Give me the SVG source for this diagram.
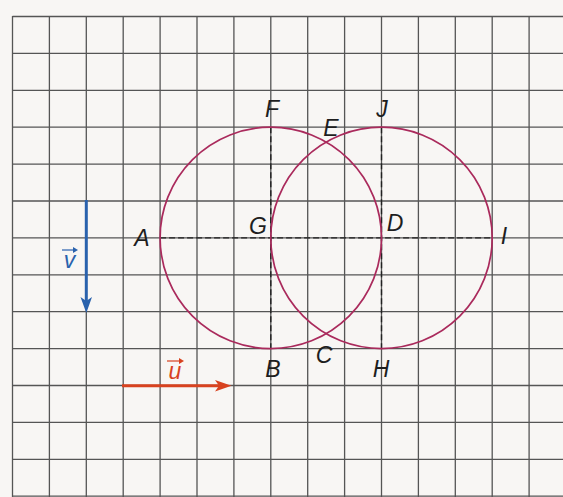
<svg xmlns="http://www.w3.org/2000/svg" width="563" height="497" viewBox="0 0 563 497">
<defs>
<style>
.grid{stroke:#555;stroke-width:1.3;fill:none}
.circ{stroke:#aa2a5c;stroke-width:1.7;fill:none}
.dash{stroke:#222;stroke-width:1.4;stroke-dasharray:6 3;fill:none}
.lbl{font-family:"Liberation Sans",Arial,sans-serif;font-style:italic;font-size:23px;fill:#1e1e1e;text-anchor:middle}
.vlbl{font-family:"Liberation Sans",Arial,sans-serif;font-style:italic;font-size:23px;text-anchor:middle}
</style>
</defs>
<rect width="563" height="497" fill="#f8f6f4"/>
<g id="grid" class="grid">
<path d="M12.5,16V497M49.4,16V497M86.3,16V497M123.2,16V497M160.1,16V497M197,16V497M233.9,16V497M270.8,16V497M307.7,16V497M344.6,16V497M381.5,16V497M418.4,16V497M455.3,16V497M492.2,16V497M529.1,16V497"/>
<path d="M12.5,16.5H563M12.5,53.4H563M12.5,90.3H563M12.5,127.2H563M12.5,164.1H563M12.5,201H563M12.5,237.9H563M12.5,274.8H563M12.5,311.7H563M12.5,348.6H563M12.5,385.5H563M12.5,422.4H563M12.5,459.3H563M12.5,496.2H563"/>
</g>
<g id="connectors">
<path class="dash" d="M160.1,237.9H492.2"/>
<path class="dash" d="M270.8,127.2V348.6"/>
<path class="dash" d="M381.5,127.2V348.6"/>
</g>
<g id="circle1"><circle class="circ" cx="270.8" cy="237.9" r="110.7"/></g>
<g id="circle2"><circle class="circ" cx="381.5" cy="237.9" r="110.7"/></g>
<g id="vector-v">
<line x1="86.3" y1="200" x2="86.3" y2="302" stroke="#2a62ad" stroke-width="3"/>
<polygon points="80.5,297 86.3,301 92,297 86.3,313" fill="#2a62ad"/>
<text class="vlbl" x="69.5" y="268" fill="#2a62ad">v</text>
<line x1="62" y1="250" x2="76" y2="250" stroke="#2a62ad" stroke-width="1.2"/>
<polygon points="73,247 78,250 73,253" fill="#2a62ad"/>
</g>
<g id="vector-u">
<line x1="122" y1="385.8" x2="220" y2="385.8" stroke="#d8421f" stroke-width="3"/>
<polygon points="215,380 219,385.8 215,391.5 231.5,385.8" fill="#d8421f"/>
<text class="vlbl" x="175" y="379" fill="#d8421f">u</text>
<line x1="167" y1="361" x2="182" y2="361" stroke="#d8421f" stroke-width="1.2"/>
<polygon points="179,358 184,361 179,364" fill="#d8421f"/>
</g>
<g id="labels">
<g id="pt-F"><text class="lbl" x="272" y="117">F</text></g>
<g id="pt-J"><text class="lbl" x="382" y="117">J</text></g>
<g id="pt-E"><text class="lbl" x="331" y="136">E</text></g>
<g id="pt-G"><text class="lbl" x="258" y="234">G</text></g>
<g id="pt-D"><text class="lbl" x="395" y="231">D</text></g>
<g id="pt-A"><text class="lbl" x="142" y="246">A</text></g>
<g id="pt-I"><text class="lbl" x="504" y="244">I</text></g>
<g id="pt-B"><text class="lbl" x="273" y="377">B</text></g>
<g id="pt-C"><text class="lbl" x="324" y="363">C</text></g>
<g id="pt-H"><text class="lbl" x="381" y="377">H</text></g>
</g>
</svg>
